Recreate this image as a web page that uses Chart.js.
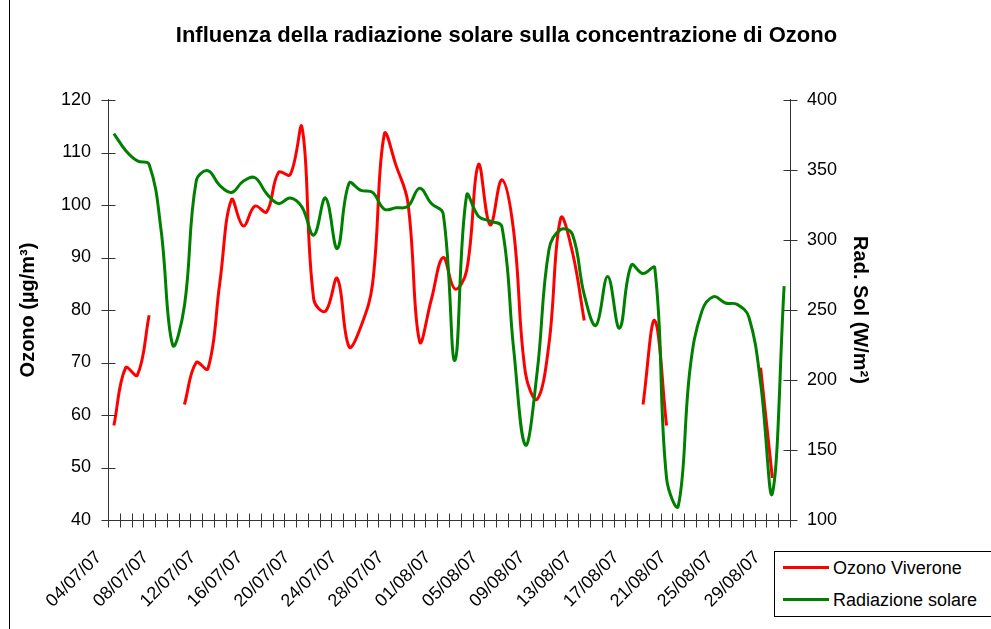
<!DOCTYPE html>
<html>
<head>
<meta charset="utf-8">
<script src="https://cdn.jsdelivr.net/npm/chart.js@4.4.1/dist/chart.umd.min.js"></script>
<style>
  html, body { margin: 0; padding: 0; background: #fff; overflow: hidden; }
  #wrap { position: relative; width: 991px; height: 629px; overflow: hidden; font-family: "Liberation Sans", Arial, sans-serif; }
  #frame { position: absolute; left: 9px; top: 0; width: 1px; height: 629px; background: #000; }
  #title { position: absolute; left: 0; top: 22px; width: 1013px; text-align: center; font-weight: bold; font-size: 22px; line-height: 26px; color: #000; white-space: nowrap; }
  #legend { position: absolute; left: 774px; top: 551px; width: 240px; height: 64px; border: 1px solid #000; background: #fff; }
  .row { position: absolute; left: 0; height: 24px; width: 240px; }
  .sw { position: absolute; left: 8px; top: 10px; width: 46px; height: 3px; }
  .tx { position: absolute; left: 58px; top: 0; font-size: 18px; line-height: 24px; color: #000; white-space: nowrap; }
</style>
</head>
<body>
<div id="wrap">
  <canvas id="c" width="991" height="629"></canvas>
  <div id="frame"></div>
  <div id="title">Influenza della radiazione solare sulla concentrazione di Ozono</div>
  <div id="legend">
    <div class="row" style="top:4px"><div class="sw" style="background:#ff0000"></div><div class="tx">Ozono Viverone</div></div>
    <div class="row" style="top:36px"><div class="sw" style="background:#008000"></div><div class="tx">Radiazione solare</div></div>
  </div>
</div>
<script>
const dates = [
  "04/07/07","05/07/07","06/07/07","07/07/07","08/07/07","09/07/07","10/07/07","11/07/07",
  "12/07/07","13/07/07","14/07/07","15/07/07","16/07/07","17/07/07","18/07/07","19/07/07",
  "20/07/07","21/07/07","22/07/07","23/07/07","24/07/07","25/07/07","26/07/07","27/07/07",
  "28/07/07","29/07/07","30/07/07","31/07/07","01/08/07","02/08/07","03/08/07","04/08/07",
  "05/08/07","06/08/07","07/08/07","08/08/07","09/08/07","10/08/07","11/08/07","12/08/07",
  "13/08/07","14/08/07","15/08/07","16/08/07","17/08/07","18/08/07","19/08/07","20/08/07",
  "21/08/07","22/08/07","23/08/07","24/08/07","25/08/07","26/08/07","27/08/07","28/08/07",
  "29/08/07","30/08/07"
];
const ozono = [
  58, 69, 67.6, 79, null, null, 62, 70,
  68.8, 85, 101, 96, 99.8, 98.7, 106.2, 105.8,
  114.8, 82, 79.8, 86, 73, 76.8, 85, 113.5,
  107.5, 100.5, 74, 82, 90, 84, 87.5, 107.7,
  96.2, 104.8, 95, 68, 63, 73.5, 97.5, 91,
  78, null, null, null, null, 62, 78, 58,
  null, null, null, null, null, null, null, 69,
  48, null
];
const radiazione = [
  376, 364, 356.5, 354, 308, 225, 253, 342,
  349.5, 339, 334, 342, 344.5, 333, 326, 330,
  323.5, 303.5, 330, 294, 340.5, 335.5, 334, 322,
  323, 324, 337, 326, 319, 214, 332, 317,
  313.5, 309.5, 222, 153.5, 206, 293, 307.5, 304,
  261, 239, 274, 237, 282, 276, 280, 130,
  110, 208, 249, 259.5, 255, 254, 245, 198,
  119, 267
];
const ozonoTicks = [40, 50, 60, 70, 80, 90, 100, 110, 120];
const radTicks = [100, 150, 200, 250, 300, 350, 400];
const labelEvery = 4;

const FONT = '"Liberation Sans", Arial, sans-serif';

const crossTicks = {
  id: 'crossTicks',
  afterDraw(chart) {
    const { ctx, chartArea: a, scales } = chart;
    const x = scales.x, y = scales.y, y1 = scales.y1;
    ctx.save();
    ctx.strokeStyle = '#333';
    ctx.lineWidth = 1;
    ctx.beginPath();
    const L = Math.round(a.left) + 0.5, R = Math.round(a.right) + 0.5, B = Math.round(a.bottom) + 0.5;
    ctx.moveTo(L, a.top - 1); ctx.lineTo(L, B);
    ctx.moveTo(R, a.top - 1); ctx.lineTo(R, B);
    ctx.moveTo(L, B); ctx.lineTo(R, B);
    y.ticks.forEach((t, i) => {
      const py = Math.round(y.getPixelForTick(i)) + 0.5;
      ctx.moveTo(L - 7, py); ctx.lineTo(L + 7, py);
    });
    y1.ticks.forEach((t, i) => {
      const py = Math.round(y1.getPixelForTick(i)) + 0.5;
      ctx.moveTo(R - 7, py); ctx.lineTo(R + 7, py);
    });
    for (let i = 0; i <= dates.length; i++) {
      const px = Math.round(x.getPixelForValue(i - 0.5)) + 0.5;
      ctx.moveTo(px, B - 7); ctx.lineTo(px, B + 7);
    }
    ctx.stroke();
    ctx.restore();
  }
};

new Chart(document.getElementById('c'), {
  type: 'line',
  data: {
    labels: dates,
    datasets: [
      {
        label: 'Ozono Viverone',
        data: ozono,
        yAxisID: 'y',
        borderColor: '#ff0000',
        backgroundColor: '#ff0000',
        borderWidth: 3,
        pointRadius: 0,
        tension: 0.4,
        spanGaps: false,
        order: 1
      },
      {
        label: 'Radiazione solare',
        data: radiazione,
        yAxisID: 'y1',
        borderColor: '#008000',
        backgroundColor: '#008000',
        borderWidth: 3,
        pointRadius: 0,
        tension: 0.4,
        spanGaps: false,
        order: 0
      }
    ]
  },
  options: {
    responsive: false,
    animation: false,
    devicePixelRatio: 1,
    layout: { padding: { top: 100, left: 0, right: 0, bottom: 0 } },
    plugins: {
      legend: { display: false },
      title: { display: false },
      tooltip: { enabled: false }
    },
    scales: {
      x: {
        type: 'category',
        offset: true,
        grid: { display: false, drawTicks: false },
        border: { display: false },
        ticks: {
          autoSkip: false,
          maxRotation: 45,
          minRotation: 45,
          padding: 27,
          labelOffset: -15,
          color: '#000',
          font: { family: FONT, size: 18 },
          callback: function (v, i) { return i % labelEvery === 0 ? dates[i] : ''; }
        },
        afterFit(s) { s.height = 109; }
      },
      y: {
        type: 'linear',
        position: 'left',
        min: 40,
        max: 120,
        grid: { display: false, drawTicks: false },
        border: { display: false },
        afterBuildTicks(s) { s.ticks = ozonoTicks.map(v => ({ value: v })); },
        ticks: { padding: 17, color: '#000', font: { family: FONT, size: 18 } },
        title: {
          display: true,
          text: 'Ozono (µg/m³)',
          color: '#000',
          font: { family: FONT, size: 20, weight: 'bold' },
          padding: { top: 16, bottom: 0 }
        },
        afterFit(s) { s.width = 108; }
      },
      y1: {
        type: 'linear',
        position: 'right',
        min: 100,
        max: 400,
        grid: { display: false, drawTicks: false },
        border: { display: false },
        afterBuildTicks(s) { s.ticks = radTicks.map(v => ({ value: v })); },
        ticks: { padding: 17, color: '#000', font: { family: FONT, size: 18 } },
        title: {
          display: true,
          text: 'Rad. Sol (W/m²)',
          color: '#000',
          font: { family: FONT, size: 20, weight: 'bold' },
          padding: { top: 119, bottom: 0 }
        },
        afterFit(s) { s.width = 201; }
      }
    }
  },
  plugins: [crossTicks]
});
</script>
</body>
</html>
